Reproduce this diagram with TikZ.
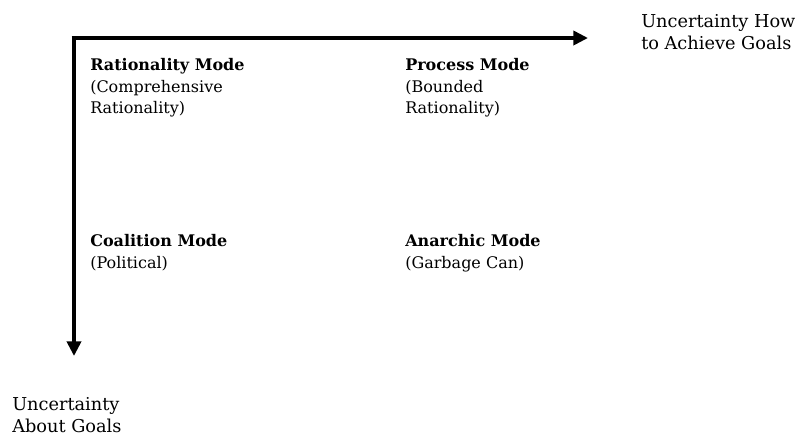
\documentclass[tikz,border=0pt]{standalone}
\usepackage{fontspec}
\setmainfont{DejaVu Serif}
\usetikzlibrary{arrows.meta}

\tikzset{
  axis/.style={line width=3.4pt, -{Triangle[length=11pt, width=10.5pt]}},
  mode/.style={anchor=north west, align=left, inner sep=0pt, font=\fontsize{12}{16.2}\selectfont},
  axislabel/.style={anchor=north west, align=left, inner sep=0pt, font=\fontsize{13.3}{17}\selectfont},
}

\begin{document}
\begin{tikzpicture}[x=0.75pt, y=-0.75pt]
    \useasboundingbox (0,0) rectangle (801,437);

    \coordinate (o) at (74,38);
    \coordinate (xend) at (588,38);
    \coordinate (yend) at (74,356);
    \draw[axis] ([xshift=-1.7pt]o) -- (xend);
    \draw[axis] (o) -- (yend);

    \node[axislabel] (xlab) at (641,14) {Uncertainty How\\to Achieve Goals};
    \node[axislabel] (ylab) at (12,397) {Uncertainty\\About Goals};

    \node[mode] (rat) at (90,58) {\textbf{Rationality Mode}\\(Comprehensive\\Rationality)};
    \node[mode] (proc) at (405,58) {\textbf{Process Mode}\\(Bounded\\Rationality)};
    \node[mode] (coal) at (90,234) {\textbf{Coalition Mode}\\(Political)};
    \node[mode] (anar) at (405,234) {\textbf{Anarchic Mode}\\(Garbage Can)};

\end{tikzpicture}
\end{document}
